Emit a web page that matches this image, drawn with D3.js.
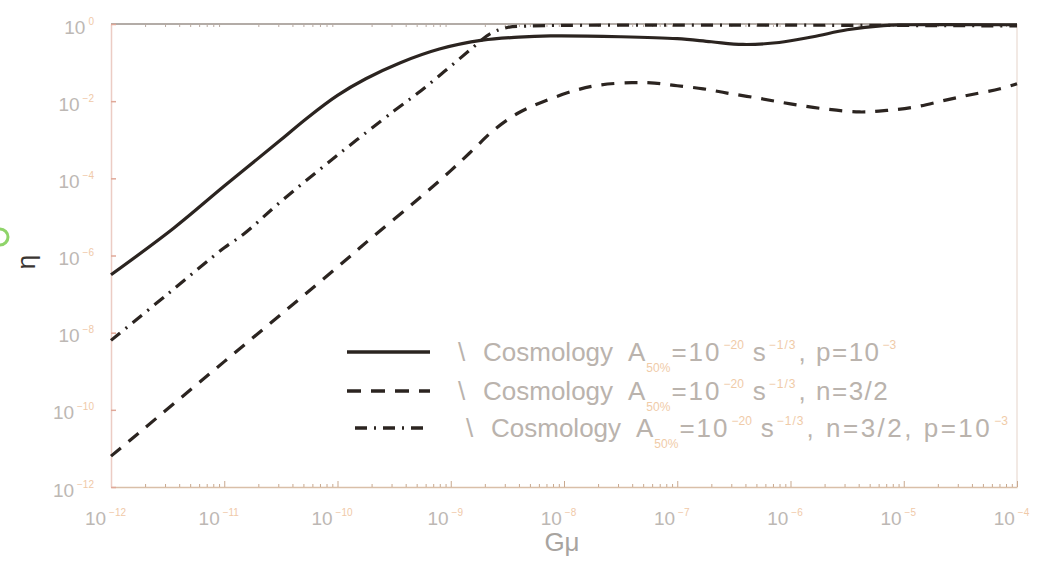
<!DOCTYPE html>
<html>
<head>
<meta charset="utf-8">
<script src="https://cdn.jsdelivr.net/npm/d3@7"></script>
<style>
  body { margin: 0; background: #fff; }
  svg { font-family: "Liberation Sans", Arial, sans-serif; }
</style>
</head>
<body>
<div id="chart"></div>
<script>
const width = 1051;
const height = 561;

// values, as log10(Gmu) and log10(eta)
const solidGmu = [-12, -11.45, -11, -10.5, -10.27, -10, -9.75, -9.45, -9.1, -8.72, -8.4, -8.12, -7.5, -7, -6.7, -6.42, -6.1, -5.8, -5.5, -5.18, -5, -4];
const solidEta = [-6.5, -5.3, -4.2, -3.0, -2.44, -1.85, -1.42, -1.01, -0.65, -0.42, -0.34, -0.31, -0.33, -0.38, -0.46, -0.53, -0.48, -0.33, -0.15, -0.04, -0.02, -0.02];

const dashGmu = [-12, -11, -10, -9.69, -9.3, -9, -8.8, -8.62, -8.4, -8.19, -7.9, -7.68, -7.4, -7.2, -7, -6.77, -6.56, -6.27, -6, -5.7, -5.39, -5.15, -4.9, -4.64, -4.42, -4.15, -4];
const dashEta = [-11.2, -8.75, -6.3, -5.52, -4.57, -3.8, -3.25, -2.75, -2.3, -2.02, -1.72, -1.58, -1.52, -1.53, -1.6, -1.68, -1.79, -1.93, -2.07, -2.2, -2.28, -2.24, -2.15, -1.98, -1.84, -1.68, -1.55];

const dotGmu = [-12, -11.5, -11, -10.83, -10.5, -10, -9.5, -9.29, -9.06, -8.82, -8.65, -8.5, -8.3, -4];
const dotEta = [-8.2, -7.0, -5.8, -5.45, -4.6, -3.4, -2.25, -1.79, -1.24, -0.65, -0.25, -0.09, -0.05, -0.05];

const xTicks = [-12, -11, -10, -9, -8, -7, -6, -5, -4];
const yTicks = [0, -2, -4, -6, -8, -10, -12];

const legendTail = [", p=10", ", n=3/2", ", n=3/2, p=10"];
const legendTailExp = ["−3", "", "−3"];

const svg = d3.select("#chart").append("svg")
  .attr("width", width)
  .attr("height", height);

const x = d3.scaleLog().domain([1e-12, 1e-4]).range([111, 1017]);
const y = d3.scaleLog().domain([1e-12, 1]).range([487, 24]);

// frame
svg.append("line").attr("x1", 111).attr("x2", 1017).attr("y1", 24).attr("y2", 24)
  .attr("stroke", "#9a908a").attr("stroke-width", 1.5);
svg.append("line").attr("x1", 1017).attr("x2", 1017).attr("y1", 24).attr("y2", 487)
  .attr("stroke", "#eadbd2").attr("stroke-width", 1.2);

// minor ticks
const minor = [];
xTicks.slice(0, -1).forEach(e => { for (let k = 2; k < 10; k++) minor.push(k * Math.pow(10, e)); });

const xAxis = svg.append("g").attr("transform", "translate(0,487)")
  .call(d3.axisBottom(x).tickValues(xTicks.map(e => Math.pow(10, e))).tickSizeInner(-6).tickSizeOuter(0).tickFormat(""));
svg.append("g").attr("transform", "translate(0,487)")
  .call(d3.axisBottom(x).tickValues(minor).tickSizeInner(-3).tickSizeOuter(0).tickFormat(""))
  .call(g => g.select(".domain").remove())
  .selectAll("line").attr("stroke", "#c9a98f");
svg.append("g").attr("transform", "translate(0,24)")
  .call(d3.axisTop(x).tickValues(minor).tickSizeInner(-3).tickSizeOuter(0).tickFormat(""))
  .call(g => g.select(".domain").remove())
  .selectAll("line").attr("stroke", "#b8aaa2");

xAxis.select(".domain").attr("stroke", "#d9bfa8").attr("stroke-width", 1.5);
xAxis.selectAll(".tick line").attr("stroke", "#c9a98f");

const yAxis = svg.append("g").attr("transform", "translate(111,0)")
  .call(d3.axisLeft(y).tickValues(yTicks.map(e => Math.pow(10, e))).tickSizeInner(-5).tickSizeOuter(0).tickFormat(""));
yAxis.select(".domain").attr("stroke", "#ecccc4").attr("stroke-width", 1.5);
yAxis.selectAll(".tick line").attr("stroke", "#e0a898").attr("stroke-width", 1.5);

// tick labels as 10 with exponent
function powLabel(sel, e) {
  sel.append("tspan").text("10").attr("fill", "#bdb8b4");
  sel.append("tspan").text(e === 0 ? "0" : "−" + Math.abs(e))
    .attr("dx", 3).attr("dy", "-0.9em").attr("font-size", 10).attr("fill", "#f0c9a8");
}
xAxis.selectAll(".tick").each(function(d) {
  const e = Math.round(Math.log10(d));
  d3.select(this).append("text").attr("x", -6).attr("y", 38)
    .attr("font-size", 19).attr("text-anchor", "middle")
    .call(powLabel, e);
});
yAxis.selectAll(".tick").each(function(d) {
  const e = Math.round(Math.log10(d));
  d3.select(this).append("text").attr("x", -17).attr("y", 9)
    .attr("font-size", 19).attr("text-anchor", "end")
    .call(powLabel, e);
});

// axis titles
svg.append("text").attr("x", 562).attr("y", 551).attr("text-anchor", "middle")
  .attr("font-size", 26).attr("fill", "#a8a4a0").text("Gμ");
svg.append("text").attr("transform", "translate(35,262) rotate(-90)").attr("text-anchor", "middle")
  .attr("font-size", 26).attr("fill", "#3a3532").text("η");
svg.append("circle").attr("cx", 0).attr("cy", 237).attr("r", 8)
  .attr("fill", "none").attr("stroke", "#8fd46a").attr("stroke-width", 3);

// curves
const line = d3.line()
  .x(d => x(Math.pow(10, d[0])))
  .y(d => y(Math.pow(10, d[1])))
  .curve(d3.curveCatmullRom.alpha(0.5));

const series = [
  {gmu: solidGmu, eta: solidEta, dash: null},
  {gmu: dashGmu, eta: dashEta, dash: "13,10"},
  {gmu: dotGmu, eta: dotEta, dash: "12,7,2,7"}
];
const ink = "#2b2420";

svg.selectAll("path.curve")
  .data(series)
  .enter().append("path")
  .attr("class", "curve")
  .attr("d", s => line(d3.zip(s.gmu, s.eta)))
  .attr("fill", "none")
  .attr("stroke", ink)
  .attr("stroke-width", 3.2)
  .attr("stroke-dasharray", s => s.dash);

// legend
const legendY = [352, 391, 428];
const legendX = [458, 458, 466];
const subColor = "#f0cba8";
const legend = svg.append("g");
series.forEach((s, i) => {
  legend.append("line")
    .attr("x1", i === 2 ? 355 : 347).attr("x2", 430)
    .attr("y1", legendY[i]).attr("y2", legendY[i])
    .attr("stroke", ink).attr("stroke-width", 3.6)
    .attr("stroke-dasharray", i === 1 ? "14,10" : s.dash);
  const x0 = legendX[i];
  const base = legendY[i] + 9;
  const t = legend.append("text")
    .attr("y", base)
    .attr("font-size", 26).attr("fill", "#bab3ad");
  t.append("tspan").attr("x", x0).text("\\");
  t.append("tspan").attr("x", x0 + 25).text("Cosmology");
  t.append("tspan").attr("x", x0 + 170).text("A");
  t.append("tspan").attr("dx", 1).attr("y", base + 11).text("50%").attr("font-size", 12).attr("fill", subColor);
  t.append("tspan").attr("dx", 1).attr("y", base).text("=10").attr("letter-spacing", 2);
  t.append("tspan").attr("dx", 2).attr("y", base - 12).text("−20").attr("font-size", 12).attr("fill", subColor);
  t.append("tspan").attr("dx", 9).attr("y", base).text("s");
  t.append("tspan").attr("dx", 3).attr("y", base - 12).text("−1/3").attr("font-size", 12).attr("fill", subColor)
    .attr("letter-spacing", 1);
  t.append("tspan").attr("dx", 2).attr("y", base).text(legendTail[i])
    .attr("letter-spacing", i === 2 ? 2.5 : 1.5);
  if (legendTailExp[i]) {
    t.append("tspan").attr("dx", 2).attr("y", base - 12).text(legendTailExp[i]).attr("font-size", 12).attr("fill", subColor);
  }
});
</script>
</body>
</html>
